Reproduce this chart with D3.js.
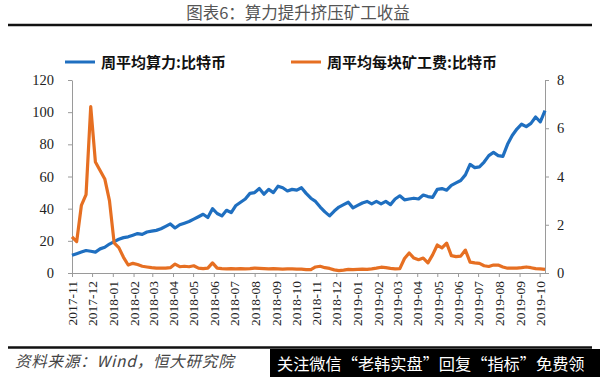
<!DOCTYPE html>
<html><head><meta charset="utf-8">
<script src="https://cdn.jsdelivr.net/npm/d3@7"></script>
<style>
body{margin:0;background:#fff;}
svg{display:block;}
</style></head>
<body>
<svg id="c" width="600" height="377"></svg>
<script>
// ---- data ----
const startDate = "2017-11-01";
const endDate = "2019-10-09";
const seriesNames = ["周平均算力:比特币", "周平均每块矿工费:比特币"];
const leftTicks = [0, 20, 40, 60, 80, 100, 120];
const rightTicks = [0, 2, 4, 6, 8];
// weekly hash rate (left axis)
const hashRate = [
 11, 12, 13, 14, 13.5, 13, 15, 16, 18, 19.5,
 21, 22, 22.5, 23.5, 24.5, 24, 25.5, 26, 26.5, 27.5,
 29, 30.5, 28, 30, 31, 32, 33.5, 35, 36.5, 34.5,
 40, 37, 35.5, 39, 37.5, 42, 44, 46, 49.5, 50,
 52.5, 49, 52, 50, 54, 53, 51, 52, 51.5, 53,
 49.5, 46.5, 44.5, 41, 38, 35.5, 38.5, 41, 42.5, 44,
 40.5, 42, 43.5, 44.5, 43, 44.5, 43, 44.5, 42.5, 46,
 48, 45.5, 46, 46.5, 46, 48.5, 47.5, 47, 52, 52.5,
 51.5, 54.5, 56, 57.5, 61, 67.5, 65.5, 66, 69, 73,
 75, 73, 72.5, 80, 85.5, 89.5, 92.5, 91, 93, 97,
 94, 101
];
// weekly fee per block, BTC (right axis)
const feePerBlock = [
 1.5, 1.3, 2.8, 3.25, 6.9, 4.6, 4.25, 3.9, 3.0, 1.25,
 1.05, 0.65, 0.33, 0.4, 0.35, 0.28, 0.25, 0.22, 0.2, 0.2,
 0.2, 0.22, 0.37, 0.26, 0.28, 0.26, 0.3, 0.2, 0.18, 0.2,
 0.42, 0.2, 0.18, 0.17, 0.18, 0.17, 0.18, 0.17, 0.18, 0.2,
 0.19, 0.18, 0.17, 0.18, 0.17, 0.16, 0.17, 0.17, 0.16, 0.16,
 0.14, 0.14, 0.25, 0.28, 0.22, 0.19, 0.13, 0.1, 0.12, 0.15,
 0.14, 0.15, 0.16, 0.15, 0.17, 0.2, 0.24, 0.22, 0.19, 0.17,
 0.18, 0.6, 0.83, 0.62, 0.55, 0.62, 0.42, 0.75, 1.16, 1.04,
 1.24, 0.72, 0.68, 0.7, 0.95, 0.45, 0.42, 0.4, 0.3, 0.27,
 0.33, 0.33, 0.25, 0.2, 0.2, 0.2, 0.22, 0.25, 0.22, 0.18,
 0.17, 0.15
];

const parse = d3.timeParse("%Y-%m-%d");
const t0 = parse(startDate), t1 = parse(endDate);
const dates = hashRate.map((_, i) => d3.timeDay.offset(t0, 7 * i));

const svg = d3.select("#c");
const M = {left: 72, right: 545, top: 80, bottom: 273};

const x = d3.scaleTime().domain([t0, t1]).range([M.left, M.right]);
const yL = d3.scaleLinear().domain([0, 120]).range([M.bottom, M.top]);
const yR = d3.scaleLinear().domain([0, 8]).range([M.bottom, M.top]);

const blue = "#1f6fc0", orange = "#e66f22";
const axisColor = "#9a9a9a";
const serif = "'Liberation Serif','DejaVu Serif',serif";
const cjk = "'Noto Sans CJK SC','Noto Sans',sans-serif";

// title
svg.append("text").attr("x", 298).attr("y", 19).attr("text-anchor", "middle")
  .attr("font-family", cjk).attr("font-size", 16.5).attr("fill", "#555")
  .text("图表6：算力提升挤压矿工收益");
svg.append("line").attr("x1", 8).attr("x2", 592).attr("y1", 25).attr("y2", 25)
  .attr("stroke", "#111").attr("stroke-width", 2.5);

// legend
const leg = [{x: 65, c: blue, t: seriesNames[0]}, {x: 291, c: orange, t: seriesNames[1]}];
leg.forEach(l => {
  svg.append("line").attr("x1", l.x).attr("x2", l.x + 30).attr("y1", 62).attr("y2", 62)
    .attr("stroke", l.c).attr("stroke-width", 3);
  svg.append("text").attr("x", l.x + 36).attr("y", 67.5)
    .attr("font-family", cjk).attr("font-weight", "bold").attr("font-size", 15)
    .attr("fill", "#111").text(l.t);
});

// axes
function styleAxis(g) {
  g.selectAll(".domain").attr("stroke", axisColor);
  g.selectAll(".tick line").attr("stroke", axisColor);
  g.selectAll("text").attr("font-family", serif).attr("fill", "#222");
}
const gl = svg.append("g").attr("transform", `translate(${M.left},0)`)
  .call(d3.axisLeft(yL).tickValues(leftTicks).tickSize(4).tickSizeOuter(0).tickPadding(14));
styleAxis(gl); gl.selectAll("text").attr("font-size", 14.5);

const gr = svg.append("g").attr("transform", `translate(${M.right},0)`)
  .call(d3.axisRight(yR).tickValues(rightTicks).tickSize(4).tickSizeOuter(0).tickPadding(8));
styleAxis(gr); gr.selectAll("text").attr("font-size", 14.5);

const gx = svg.append("g").attr("transform", `translate(0,${M.bottom})`)
  .call(d3.axisBottom(x).ticks(d3.timeMonth.every(1)).tickFormat(d3.timeFormat("%Y-%m"))
    .tickSize(4).tickSizeOuter(0));
styleAxis(gx);
gx.selectAll("text").attr("font-size", 13.5)
  .attr("transform", "rotate(-90)").attr("text-anchor", "end")
  .attr("x", -8).attr("y", 0).attr("dy", "0.35em");

// lines
const lineL = d3.line().x((d, i) => x(dates[i])).y(d => yL(d)).curve(d3.curveLinear);
const lineR = d3.line().x((d, i) => x(dates[i])).y(d => yR(d)).curve(d3.curveLinear);
svg.append("path").datum(hashRate).attr("d", lineL).attr("fill", "none")
  .attr("stroke", blue).attr("stroke-width", 3.2).attr("stroke-linejoin", "round");
svg.append("path").datum(feePerBlock).attr("d", lineR).attr("fill", "none")
  .attr("stroke", orange).attr("stroke-width", 3.2).attr("stroke-linejoin", "round");

// footer
svg.append("line").attr("x1", 8).attr("x2", 592).attr("y1", 347.5).attr("y2", 347.5)
  .attr("stroke", "#111").attr("stroke-width", 2.5);
svg.append("text").attr("x", 15).attr("y", 367)
  .attr("font-family", cjk).attr("font-style", "italic").attr("font-size", 15.5)
  .attr("letter-spacing", 0.8).attr("fill", "#444")
  .text("资料来源：Wind，恒大研究院");
svg.append("rect").attr("x", 270).attr("y", 349).attr("width", 330).attr("height", 28).attr("fill", "#000");
svg.append("text").attr("x", 277).attr("y", 370)
  .attr("font-family", cjk).attr("font-size", 16.2).attr("fill", "#fff")
  .text("关注微信“老韩实盘”回复“指标”免费领");
</script>
</body></html>
